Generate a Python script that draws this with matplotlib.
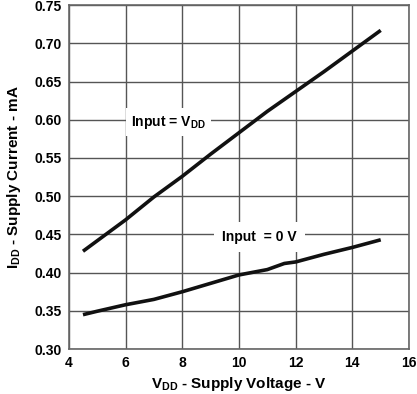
import matplotlib.pyplot as plt

plt.rcParams['font.family'] = ['Liberation Sans', 'DejaVu Sans']
plt.rcParams['font.weight'] = 'bold'
plt.rcParams['mathtext.fontset'] = 'custom'
plt.rcParams['mathtext.rm'] = 'Liberation Sans:bold'
plt.rcParams['mathtext.bf'] = 'Liberation Sans:bold'

# Input = VDD
v_hi = [4.5, 6.0, 7.0, 8.0, 9.0, 10.0, 11.0, 12.0, 13.0, 14.0, 15.0]
i_hi = [0.428, 0.469, 0.499, 0.526, 0.555, 0.583, 0.611, 0.637, 0.663, 0.690, 0.717]

# Input = 0 V
v_lo = [4.5, 5.0, 6.0, 7.0, 8.0, 9.0, 10.0, 11.0, 11.6, 12.0, 13.0, 14.0, 15.0]
i_lo = [0.345, 0.3495, 0.358, 0.365, 0.375, 0.386, 0.397, 0.404, 0.412, 0.414, 0.424, 0.433, 0.443]

xticks = [4, 6, 8, 10, 12, 14, 16]
yticks = [0.30, 0.35, 0.40, 0.45, 0.50, 0.55, 0.60, 0.65, 0.70, 0.75]

fig = plt.figure(figsize=(4.17, 3.94), dpi=100)
ax = fig.add_axes([0.165, 0.114, 0.816, 0.873])

ax.plot(v_hi, i_hi, color='#111111', lw=2.6, solid_capstyle='butt', zorder=3)
ax.plot(v_lo, i_lo, color='#111111', lw=2.6, solid_capstyle='butt', zorder=3)

ax.set_xlim(4, 16)
ax.set_ylim(0.30, 0.75)
ax.set_xticks(xticks)
ax.set_yticks(yticks)
ax.set_yticklabels([f"{t:.2f}" for t in yticks])
ax.grid(True, color='#555555', lw=1.0)
ax.set_axisbelow(True)
for s in ax.spines.values():
    s.set_color('#666666')
    s.set_linewidth(1.2)
ax.tick_params(length=0, labelsize=10, pad=5)
for lab in ax.get_xticklabels() + ax.get_yticklabels():
    lab.set_fontweight('bold')

ax.set_xlabel(r'V$_{\mathrm{DD}}$ - Supply Voltage - V', fontsize=11, fontweight='bold', labelpad=3.5)
ax.set_ylabel(r'I$_{\mathrm{DD}}$ - Supply Current - mA', fontsize=11, fontweight='bold', labelpad=8)

ax.text(6.2, 0.597, r'Input = V$_{\mathrm{DD}}$', fontsize=10, fontweight='bold', va='center', ha='left',
        bbox=dict(facecolor='white', edgecolor='none', pad=4), zorder=4)
ax.text(9.4, 0.4466, 'Input  = 0 V', fontsize=10, fontweight='bold', va='center', ha='left',
        bbox=dict(facecolor='white', edgecolor='none', pad=6), zorder=4)

fig.savefig('out.png', dpi=100)
